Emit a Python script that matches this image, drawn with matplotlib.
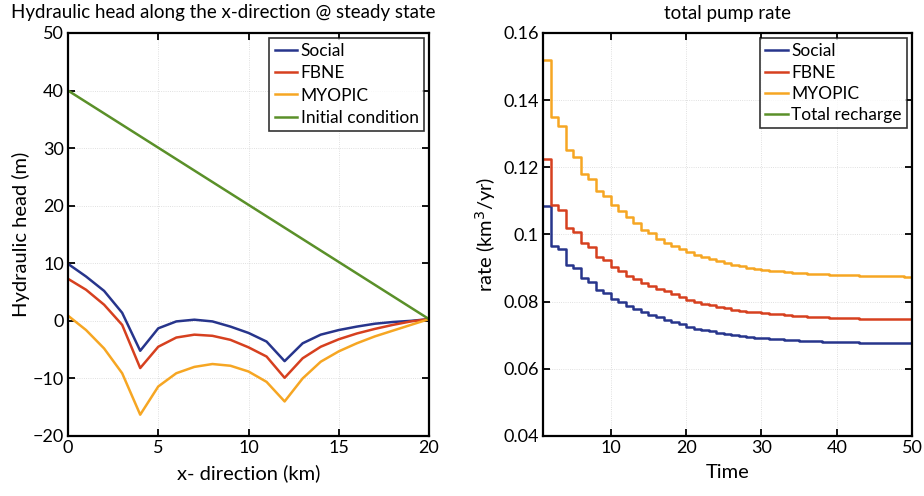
import matplotlib
matplotlib.use("Agg")
import matplotlib.pyplot as plt
from matplotlib.ticker import FixedLocator, FuncFormatter

plt.rcParams['font.family'] = ['Lato', 'DejaVu Sans']

# ---------------- data: left panel ----------------
x_km = [0, 1, 2, 3, 4, 5, 6, 7, 8, 9, 10, 11, 12, 13, 14, 15, 16, 17, 18, 19, 20]
head_social = [9.9, 7.7, 5.2, 1.4, -5.2, -1.3, -0.1, 0.2, -0.1, -1.0, -2.1,
               -3.6, -7.0, -3.9, -2.4, -1.6, -1.0, -0.5, -0.2, 0.0, 0.3]
head_fbne = [7.3, 5.4, 2.8, -0.7, -8.2, -4.5, -2.9, -2.4, -2.6, -3.3, -4.6,
             -6.2, -9.9, -6.5, -4.5, -3.2, -2.2, -1.4, -0.7, -0.1, 0.3]
head_myopic = [0.9, -1.6, -4.8, -9.1, -16.3, -11.4, -9.1, -8.0, -7.5, -7.8, -8.8,
               -10.6, -14.0, -10.0, -7.1, -5.3, -3.9, -2.7, -1.7, -0.7, 0.3]
x_init = [0, 20]
head_init = [40.0, 0.3]

# ---------------- data: right panel ----------------
years = list(range(1, 51))
rate_social = [0.1086, 0.0967, 0.0957, 0.0909, 0.0899, 0.0869, 0.0859, 0.0836, 0.0826, 0.0808,
               0.0798, 0.0786, 0.0777, 0.0768, 0.0760, 0.0753, 0.0746, 0.0740, 0.0734, 0.0725,
               0.0720, 0.0716, 0.0712, 0.0708, 0.0704, 0.0701, 0.0698, 0.0695, 0.0693, 0.0691,
               0.0689, 0.0688, 0.0687, 0.0685, 0.0684, 0.0683, 0.0682, 0.0681, 0.0681, 0.0680,
               0.0679, 0.0679, 0.0678, 0.0678, 0.0677, 0.0677, 0.0677, 0.0676, 0.0676, 0.0676]
rate_fbne = [0.1224, 0.1087, 0.1074, 0.1019, 0.1006, 0.0974, 0.0964, 0.0934, 0.0924, 0.0902,
             0.0892, 0.0876, 0.0866, 0.0855, 0.0847, 0.0839, 0.0831, 0.0822, 0.0813, 0.0806,
             0.0800, 0.0794, 0.0789, 0.0784, 0.0780, 0.0776, 0.0773, 0.0770, 0.0768, 0.0766,
             0.0764, 0.0762, 0.0760, 0.0758, 0.0757, 0.0755, 0.0754, 0.0753, 0.0752, 0.0751,
             0.0750, 0.0750, 0.0749, 0.0749, 0.0748, 0.0748, 0.0748, 0.0747, 0.0747, 0.0747]
rate_myopic = [0.1520, 0.1349, 0.1324, 0.1251, 0.1231, 0.1179, 0.1164, 0.1129, 0.1114, 0.1089,
               0.1071, 0.1051, 0.1034, 0.1014, 0.1004, 0.0986, 0.0975, 0.0965, 0.0956, 0.0948,
               0.0940, 0.0933, 0.0926, 0.0920, 0.0914, 0.0909, 0.0905, 0.0901, 0.0898, 0.0895,
               0.0892, 0.0890, 0.0888, 0.0886, 0.0884, 0.0883, 0.0882, 0.0881, 0.0880, 0.0880,
               0.0879, 0.0878, 0.0877, 0.0877, 0.0876, 0.0876, 0.0875, 0.0875, 0.0874, 0.0874]
rate_recharge = [0.0401] * 50

left_xticks = [0, 5, 10, 15, 20]
left_yticks = [-20, -10, 0, 10, 20, 30, 40, 50]
right_xticks = [10, 20, 30, 40, 50]
right_yticks = [0.04, 0.06, 0.08, 0.1, 0.12, 0.14, 0.16]

C_BLUE = '#27358c'
C_RED = '#d6401f'
C_ORANGE = '#f6a623'
C_GREEN = '#5a9029'

FS_TICK = 13
FS_LEG = 12.5
FS_LABEL = 14.5
FS_TITLE = 13.5

fig = plt.figure(figsize=(9.24, 4.96), dpi=100)
ax1 = fig.add_axes([0.0736, 0.121, 0.3907, 0.8125])
ax2 = fig.add_axes([0.5877, 0.121, 0.3993, 0.8125])


def style(ax):
    for s in ax.spines.values():
        s.set_linewidth(1.6)
        s.set_color('black')
    ax.tick_params(direction='in', top=True, right=True, length=5, width=1.3,
                   labelsize=FS_TICK, colors='black', pad=3)
    ax.grid(True, linestyle=':', color='#bbbbbb', linewidth=0.6, alpha=0.6)


lw = 1.8
ax1.plot(x_km, head_social, color=C_BLUE, lw=lw, label='Social')
ax1.plot(x_km, head_fbne, color=C_RED, lw=lw, label='FBNE')
ax1.plot(x_km, head_myopic, color=C_ORANGE, lw=lw, label='MYOPIC')
ax1.plot(x_init, head_init, color=C_GREEN, lw=lw, label='Initial condition')
ax1.set_xlim(0, 20)
ax1.set_ylim(-20, 50)
ax1.xaxis.set_major_locator(FixedLocator(left_xticks))
ax1.yaxis.set_major_locator(FixedLocator(left_yticks))
style(ax1)
ax1.set_xlabel('x- direction (km)', fontsize=FS_LABEL, labelpad=6)
ax1.set_ylabel('Hydraulic head (m)', fontsize=FS_LABEL, labelpad=2)
fig.text(0.012, 0.958, 'Hydraulic head along the x-direction @ steady state', fontsize=FS_TITLE,
         ha='left', va='bottom')
leg1 = ax1.legend(loc='upper right', fontsize=FS_LEG, frameon=True, fancybox=False,
                  handlelength=1.3, handletextpad=0.2, borderpad=0.3, labelspacing=0.35,
                  borderaxespad=0.3)
leg1.get_frame().set_edgecolor('black')
leg1.get_frame().set_linewidth(1.2)

ax2.step(years, rate_social, where='post', color=C_BLUE, lw=lw, label='Social')
ax2.step(years, rate_fbne, where='post', color=C_RED, lw=lw, label='FBNE')
ax2.step(years, rate_myopic, where='post', color=C_ORANGE, lw=lw, label='MYOPIC')
ax2.step(years, rate_recharge, where='post', color=C_GREEN, lw=lw, label='Total recharge')
ax2.set_xlim(1, 50)
ax2.set_ylim(0.04, 0.16)
ax2.xaxis.set_major_locator(FixedLocator(right_xticks))
ax2.yaxis.set_major_locator(FixedLocator(right_yticks))
ax2.yaxis.set_major_formatter(FuncFormatter(lambda v, p: ('%.2f' % v).rstrip('0')))
style(ax2)
ax2.set_xlabel('Time', fontsize=FS_LABEL, labelpad=6)
ax2.set_ylabel('rate (km$^3$/yr)', fontsize=FS_LABEL, labelpad=4)
ax2.text(0.5, 1.028, 'total pump rate', fontsize=FS_TITLE,
         transform=ax2.transAxes, ha='center', va='bottom')
leg2 = ax2.legend(loc='upper right', fontsize=FS_LEG, frameon=True, fancybox=False,
                  handlelength=1.3, handletextpad=0.2, borderpad=0.3, labelspacing=0.3,
                  borderaxespad=0.3)
leg2.get_frame().set_edgecolor('black')
leg2.get_frame().set_linewidth(1.2)

fig.savefig('out.png', dpi=100)
